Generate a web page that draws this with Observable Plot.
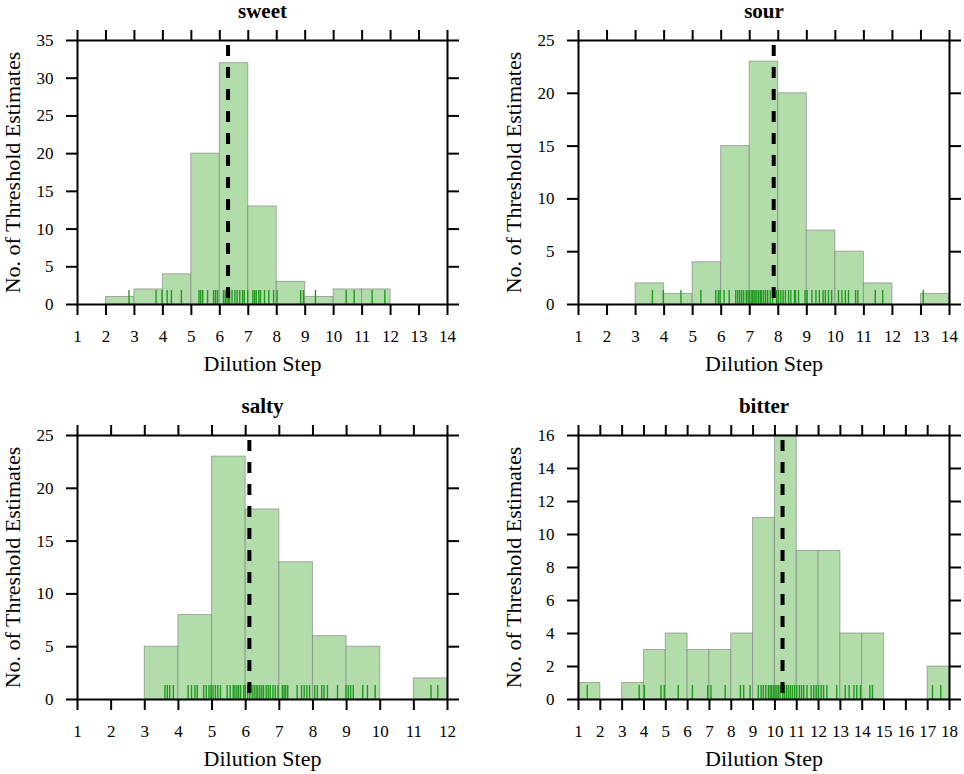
<!DOCTYPE html>
<html>
<head>
<meta charset="utf-8">
<script src="https://cdn.jsdelivr.net/npm/d3@7"></script>
<script src="https://cdn.jsdelivr.net/npm/@observablehq/plot@0.6"></script>
<style>
  html, body { margin: 0; padding: 0; background: #fff; }
  #root { position: relative; width: 964px; height: 774px; overflow: hidden; }
  .panel { position: absolute; }
</style>
</head>
<body>
<div id="root"></div>
<script>
// ---------------- DATA ----------------
const titles = ["sweet", "sour", "salty", "bitter"];
const xLabel = "Dilution Step";
const yLabel = "No. of Threshold Estimates";

// histogram bins (bin edges) and counts
const sweetEdges = [2, 3, 4, 5, 6, 7, 8, 9, 10, 11, 12];
const sweetCounts = [1, 2, 4, 20, 32, 13, 3, 1, 2, 2];
const sourEdges = [3, 4, 5, 6, 7, 8, 9, 10, 11, 12, 13, 14];
const sourCounts = [2, 1, 4, 15, 23, 20, 7, 5, 2, 0, 1];
const saltyEdges = [3, 4, 5, 6, 7, 8, 9, 10, 11, 12];
const saltyCounts = [5, 8, 23, 18, 13, 6, 5, 0, 2];
const bitterEdges = [1, 2, 3, 4, 5, 6, 7, 8, 9, 10, 11, 12, 13, 14, 15, 16, 17, 18];
const bitterCounts = [1, 0, 1, 3, 4, 3, 3, 4, 11, 16, 9, 9, 4, 4, 0, 0, 2];

// individual threshold estimates (rug)
const sweetRug = [2.81, 3.76, 3.97, 4.15, 4.30, 4.65, 5.27, 5.33, 5.40, 5.57, 5.78, 5.85, 5.92,
  6.13, 6.19, 6.25, 6.31, 6.34, 6.43, 6.53, 6.61, 6.70, 6.80, 6.86, 6.98, 7.16, 7.22, 7.28, 7.37,
  7.43, 7.57, 7.72, 7.89, 8.01, 8.84, 8.94, 9.36, 10.44, 10.72, 11.35, 11.80];
const sourRug = [3.59, 3.97, 4.59, 5.29, 5.81, 5.90, 5.96, 6.10, 6.28, 6.51, 6.58, 6.65, 6.72, 6.79,
  6.88, 6.94, 6.99, 7.05, 7.10, 7.15, 7.19, 7.25, 7.31, 7.37, 7.42, 7.49, 7.56, 7.63, 7.72, 7.80,
  7.94, 8.01, 8.09, 8.17, 8.25, 8.36, 8.44, 8.57, 8.60, 8.71, 8.94, 9.01, 9.18, 9.32, 9.44, 9.57,
  9.65, 9.76, 9.87, 10.11, 10.23, 10.35, 10.46, 10.71, 10.79, 11.40, 11.66, 13.08];
const saltyRug = [3.60, 3.67, 3.74, 3.85, 4.29, 4.39, 4.49, 4.56, 4.75, 4.83, 4.91, 4.97, 5.03,
  5.10, 5.17, 5.25, 5.45, 5.54, 5.63, 5.68, 5.74, 5.79, 5.85, 5.94, 5.99, 6.06, 6.12, 6.19, 6.25,
  6.31, 6.36, 6.42, 6.48, 6.53, 6.61, 6.67, 6.73, 6.81, 6.88, 6.96, 7.09, 7.14, 7.19, 7.25, 7.53,
  7.66, 7.74, 7.82, 7.90, 8.05, 8.13, 8.26, 8.33, 8.43, 8.73, 8.98, 9.05, 9.12, 9.20, 9.48, 9.62,
  9.85, 11.51, 11.71];
const bitterRug = [1.40, 3.78, 4.02, 4.78, 4.93, 5.57, 6.22, 6.92, 7.07, 7.72, 8.42, 8.57, 8.86,
  9.24, 9.37, 9.47, 9.58, 9.70, 9.78, 9.85, 9.93, 10.01, 10.09, 10.16, 10.24, 10.36, 10.44, 10.53,
  10.62, 10.71, 10.80, 10.90, 11.00, 11.12, 11.22, 11.32, 11.47, 11.66, 11.78, 11.89, 12.00,
  12.12, 12.23, 12.38, 12.83, 13.22, 13.40, 13.62, 13.75, 13.92, 14.35, 14.47, 17.22, 17.60];

// central estimate (dashed line)
const centers = [6.29, 7.84, 6.11, 10.35];

// axes
const sweetXDomain = [1, 14];
const sourXDomain = [1, 14];
const saltyXDomain = [1, 12];
const bitterXDomain = [1, 18];
const xTicks14 = [1, 2, 3, 4, 5, 6, 7, 8, 9, 10, 11, 12, 13, 14];
const xTicks12 = [1, 2, 3, 4, 5, 6, 7, 8, 9, 10, 11, 12];
const xTicks18 = [1, 2, 3, 4, 5, 6, 7, 8, 9, 10, 11, 12, 13, 14, 15, 16, 17, 18];
const sweetYDomain = [0, 35];
const sweetYTicks = [0, 5, 10, 15, 20, 25, 30, 35];
const sourYDomain = [0, 25];
const sourYTicks = [0, 5, 10, 15, 20, 25];
const saltyYDomain = [0, 25];
const saltyYTicks = [0, 5, 10, 15, 20, 25];
const bitterYDomain = [0, 16];
const bitterYTicks = [0, 2, 4, 6, 8, 10, 12, 14, 16];

// ---------------- DRAW ----------------
const FONT = "'Liberation Serif', 'Times New Roman', Times, serif";
const FILL = "#b3dcab";
const RUG = "#1f9a1f";

function binsTable(edges, counts) {
  return counts.map((n, i) => ({lo: edges[i], hi: edges[i + 1], n})).filter(d => d.n > 0);
}

function panel(cfg) {
  const plotH = 379, mt = 40, mb = 75;
  const frameH = plotH - mt - mb;
  const chart = Plot.plot({
    width: cfg.width,
    height: plotH,
    marginLeft: 77,
    marginRight: cfg.mr,
    marginTop: mt,
    marginBottom: mb,
    style: {fontFamily: FONT, fontSize: "17px", background: "#fff", color: "#000", overflow: "visible"},
    x: {domain: cfg.xDomain},
    y: {domain: cfg.yDomain},
    marks: [
      Plot.rect(binsTable(cfg.edges, cfg.counts), {
        x1: "lo", x2: "hi", y1: 0, y2: "n",
        fill: FILL, stroke: "#7a7a7a", strokeOpacity: 0.6, strokeWidth: 1
      }),
      Plot.ruleX(cfg.rug, {x: d => d, stroke: RUG, strokeWidth: 1.4, insetTop: frameH - 14}),
      Plot.ruleX([cfg.center], {x: d => d, stroke: "#000", strokeWidth: 4,
        strokeDasharray: "11,11", insetTop: 5}),
      Plot.frame({stroke: "#000", strokeWidth: 2}),
      Plot.axisX({anchor: "bottom", ticks: cfg.xTicks, tickSize: 11, tickPadding: 14,
        strokeWidth: 2, fontSize: 17, label: null, tickFormat: d => String(d)}),
      Plot.axisX({anchor: "top", ticks: cfg.xTicks, tickSize: 11, strokeWidth: 2,
        label: null, tickFormat: () => ""}),
      Plot.axisY({anchor: "left", ticks: cfg.yTicks, tickSize: 11, tickPadding: 13,
        strokeWidth: 2, fontSize: 17, label: null, tickFormat: d => String(d)}),
      Plot.axisY({anchor: "right", ticks: cfg.yTicks, tickSize: 11, strokeWidth: 2,
        label: null, tickFormat: () => ""}),
      Plot.text([cfg.title], {frameAnchor: "top", dy: -23, lineAnchor: "bottom",
        textAnchor: "middle", fontWeight: "bold", fontSize: 21, text: d => d}),
      Plot.text([xLabel], {frameAnchor: "bottom", dy: 59, lineAnchor: "middle",
        textAnchor: "middle", fontSize: 22, text: d => d}),
      Plot.text([yLabel], {frameAnchor: "left", dx: -65, rotate: -90, lineAnchor: "middle",
        textAnchor: "middle", fontSize: 22, text: d => d})
    ]
  });
  const div = document.createElement("div");
  div.className = "panel";
  div.style.left = cfg.left + "px";
  div.style.top = cfg.top + "px";
  div.appendChild(chart);
  document.getElementById("root").appendChild(div);
}

panel({title: titles[0], left: 0, top: 0, width: 482, mr: 35,
  xDomain: sweetXDomain, xTicks: xTicks14, yDomain: sweetYDomain, yTicks: sweetYTicks,
  edges: sweetEdges, counts: sweetCounts, rug: sweetRug, center: centers[0]});
panel({title: titles[1], left: 501, top: 0, width: 463, mr: 15,
  xDomain: sourXDomain, xTicks: xTicks14, yDomain: sourYDomain, yTicks: sourYTicks,
  edges: sourEdges, counts: sourCounts, rug: sourRug, center: centers[1]});
panel({title: titles[2], left: 0, top: 395, width: 482, mr: 35,
  xDomain: saltyXDomain, xTicks: xTicks12, yDomain: saltyYDomain, yTicks: saltyYTicks,
  edges: saltyEdges, counts: saltyCounts, rug: saltyRug, center: centers[2]});
panel({title: titles[3], left: 501, top: 395, width: 463, mr: 15,
  xDomain: bitterXDomain, xTicks: xTicks18, yDomain: bitterYDomain, yTicks: bitterYTicks,
  edges: bitterEdges, counts: bitterCounts, rug: bitterRug, center: centers[3]});
</script>
</body>
</html>
